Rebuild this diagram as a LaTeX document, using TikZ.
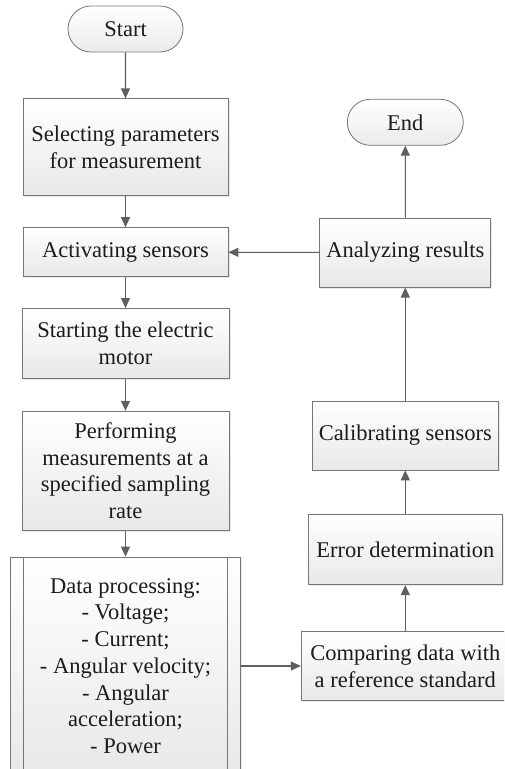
\documentclass[tikz,border=0pt]{standalone}
\usepackage{fontspec}
\setmainfont{Liberation Serif}
\usetikzlibrary{shapes.misc, arrows.meta, positioning, shadows}
\definecolor{linegray}{RGB}{118,118,118}
\definecolor{arrowgray}{RGB}{95,95,95}
\definecolor{textgray}{RGB}{28,28,28}
\tikzset{
    term/.style={rounded rectangle, draw=linegray, line width=0.8pt, top color=white, bottom color=black!8, minimum height=46pt, inner sep=0pt, text=textgray, font=\fontsize{22.5}{26.7}\selectfont},
    proc/.style={rectangle, draw=linegray, line width=0.8pt, top color=white, bottom color=black!9, align=center, inner sep=0pt, text=textgray, font=\fontsize{22.5}{26.7}\selectfont, drop shadow={opacity=0.18, shadow xshift=1.5pt, shadow yshift=-1.5pt}},
    predef/.style={proc, path picture={
        \draw[linegray, line width=0.8pt] ([xshift=13pt]path picture bounding box.north west) -- ([xshift=13pt]path picture bounding box.south west);
        \draw[linegray, line width=0.8pt] ([xshift=-13pt]path picture bounding box.north east) -- ([xshift=-13pt]path picture bounding box.south east);}},
    arrow/.style={-{Triangle[length=10pt, width=9pt]}, draw=arrowgray, line width=1.1pt},
}
\begin{document}
\begin{tikzpicture}[x=1pt, y=-1pt]
    \useasboundingbox (0,0) rectangle (504,769);
    \clip (0,0) rectangle (504,769);

    % Left column
    \node [term, minimum width=115pt] (start) at (125.5,29) {Start};
    \node [proc, minimum width=205pt, minimum height=97pt, below=46pt of start] (select) {Selecting parameters\\for measurement};
    \node [proc, minimum width=205pt, minimum height=49pt, below=31pt of select] (activate) {Activating sensors};
    \node [proc, minimum width=207pt, minimum height=70pt, below=31pt of activate] (motor) {Starting the electric\\motor};
    \node [proc, minimum width=207pt, minimum height=119pt, below=32pt of motor] (measure) {Performing\\measurements at a\\specified sampling\\rate};
    \node [predef, minimum width=230pt, minimum height=218pt, below=26pt of measure] (process) {Data processing:\\- Voltage;\\- Current;\\- Angular velocity;\\- Angular\\acceleration;\\- Power};

    % Right column
    \node [proc, minimum width=208pt, minimum height=69pt, right=60pt of process] (compare) {Comparing data with\\a reference standard};
    \node [proc, minimum width=194pt, minimum height=70pt, above=46pt of compare] (error) {Error determination};
    \node [proc, minimum width=186pt, minimum height=69pt, above=44pt of error] (calib) {Calibrating sensors};
    \node [proc, minimum width=171pt, minimum height=69pt, above=113pt of calib] (analyze) {Analyzing results};
    \node [term, minimum width=116pt, above=72pt of analyze] (stop) {End};

    % Edges
    \draw [arrow] (start) -- (select);
    \draw [arrow] (select) -- (activate);
    \draw [arrow] (activate) -- (motor);
    \draw [arrow] (motor) -- (measure);
    \draw [arrow] (measure) -- (process);
    \draw [arrow] (process) -- (compare);
    \draw [arrow] (compare) -- (error);
    \draw [arrow] (error) -- (calib);
    \draw [arrow] (calib) -- (analyze);
    \draw [arrow] (analyze) -- (stop);
    \draw [arrow] (analyze) -- (activate);
\end{tikzpicture}
\end{document}
